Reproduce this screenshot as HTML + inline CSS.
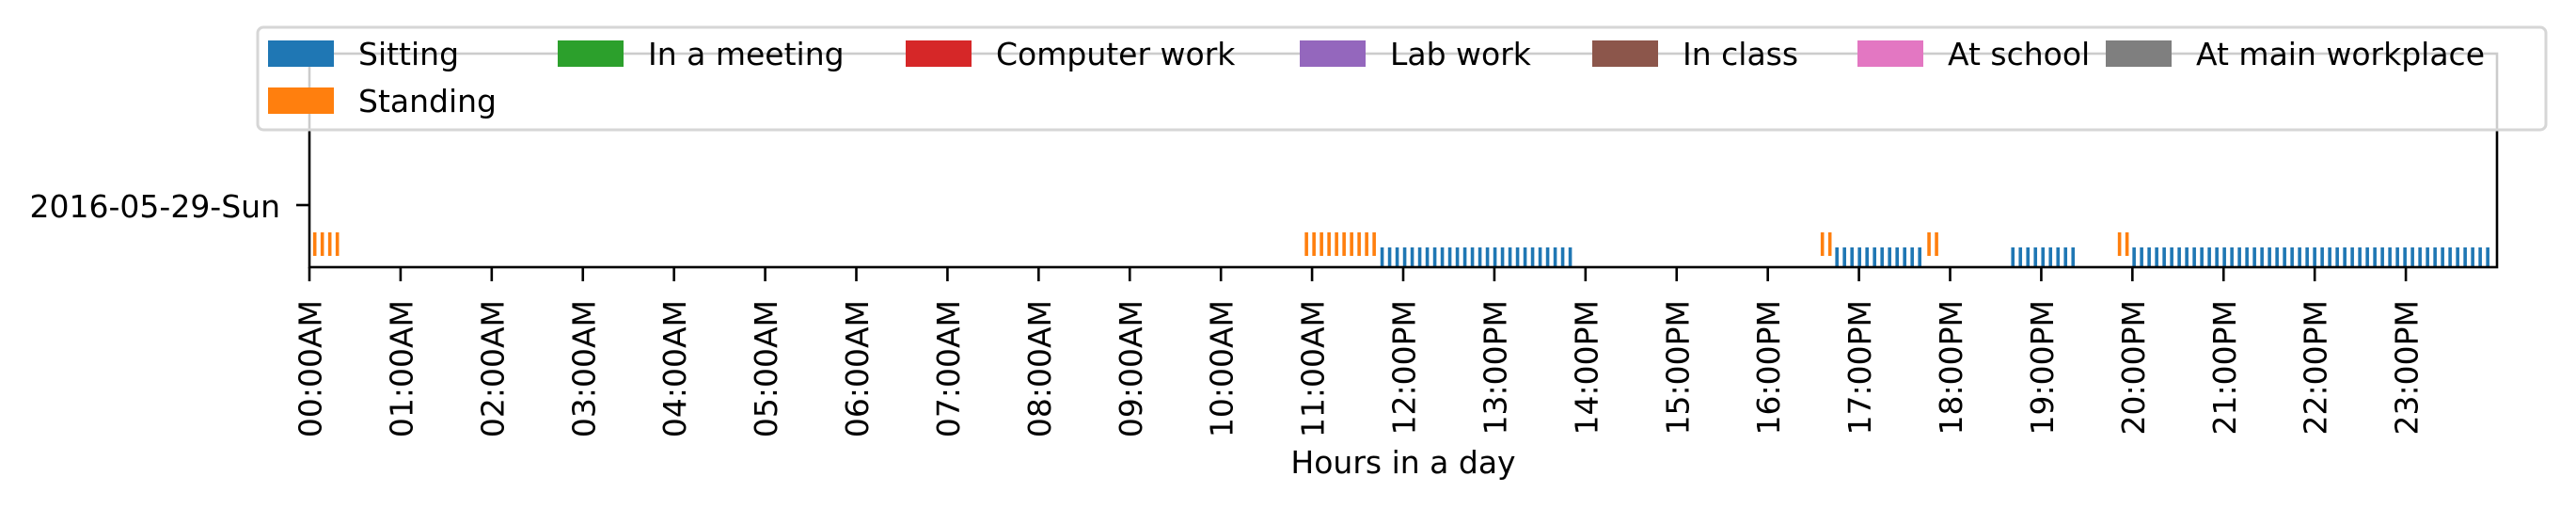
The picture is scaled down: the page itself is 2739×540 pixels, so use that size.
<!DOCTYPE html>
<html><head><meta charset="utf-8"><style>
html,body{margin:0;padding:0;background:#fff;}
svg{display:block;font-family:"DejaVu Sans","Liberation Sans",sans-serif;}
</style></head><body>
<svg id="chart" width="2739" height="540" viewBox="0 0 2739 540" xmlns="http://www.w3.org/2000/svg">
<g id="plot"></g>
<g id="axes"></g>
<g id="legend"></g>
</svg>
<script>
const categories = ["Sitting","Standing","In a meeting","Computer work","Lab work","In class","At school","At main workplace"];
const colors = ["#1f77b4","#ff7f0e","#2ca02c","#d62728","#9467bd","#8c564b","#e377c2","#7f7f7f"];
const dayLabels = ["2016-05-29-Sun"];
const tickLabels = ["00:00AM","01:00AM","02:00AM","03:00AM","04:00AM","05:00AM","06:00AM","07:00AM","08:00AM","09:00AM","10:00AM","11:00AM","12:00PM","13:00PM","14:00PM","15:00PM","16:00PM","17:00PM","18:00PM","19:00PM","20:00PM","21:00PM","22:00PM","23:00PM"];
const sittingStart = [11.75, 16.74, 18.67, 20.0];
const sittingEnd   = [13.88, 17.72, 19.37, 23.97];
const standingStart = [0.04, 10.92, 16.58, 17.75, 19.84];
const standingEnd   = [0.34, 11.71, 16.71, 17.87, 19.96];

const NS = "http://www.w3.org/2000/svg";
const L = 329, R = 2655, T = 57, B = 284;
const xDomain = [0, 24];
function xs(h){ return L + (h - xDomain[0]) / (xDomain[1] - xDomain[0]) * (R - L); }
function mk(tag, attrs, parent){ const e = document.createElementNS(NS, tag); for (const k in attrs) e.setAttribute(k, attrs[k]); parent.appendChild(e); return e; }
const plot = document.getElementById('plot');
const axes = document.getElementById('axes');
const legend = document.getElementById('legend');

function hatchBar(h0, h1, y, h, color, name){
  const g = mk('g', {}, plot);
  
  
  const x0 = xs(h0), x1 = xs(h1);
  for (let x = x0; x < x1 - 1; x += 8) {
    mk('rect', {x: x, y: y, width: Math.min(3.6, x1 - x), height: h, fill: color}, g);
  }
}
for (let i = 0; i < standingStart.length; i++) hatchBar(standingStart[i], standingEnd[i], 247, 25, colors[1], 'standing-bar');
for (let i = 0; i < sittingStart.length; i++) hatchBar(sittingStart[i], sittingEnd[i], 263, 20, colors[0], 'sitting-bar');

const frame = mk('rect', {x: L, y: T, width: R - L, height: B - T, fill: 'none', stroke: '#000', 'stroke-width': 2.6}, axes);



for (let i = 0; i < tickLabels.length; i++) {
  const x = xs(i);
  const t = mk('line', {x1: x, y1: B, x2: x, y2: B + 15, stroke: '#000', 'stroke-width': 2.6}, axes);
  
  
  const tx = mk('text', {x: 0, y: 0, transform: `translate(${x + 1},319) rotate(-90)`, 'text-anchor': 'end', 'dominant-baseline': 'central', 'font-size': 33, fill: '#000'}, axes);
  tx.textContent = tickLabels[i];
  
  
}
for (let i = 0; i < dayLabels.length; i++) {
  const y = 218;
  const t = mk('line', {x1: L - 14, y1: y, x2: L, y2: y, stroke: '#000', 'stroke-width': 2.6}, axes);
  
  
  const tx = mk('text', {x: 298, y: 231, 'text-anchor': 'end', 'font-size': 33, fill: '#000'}, axes);
  tx.textContent = dayLabels[i];
  
  
}
const xl = mk('text', {x: (L + R) / 2, y: 503, 'text-anchor': 'middle', 'font-size': 33, fill: '#000'}, axes);
xl.textContent = 'Hours in a day';



const lb = mk('rect', {x: 274, y: 29, width: 2433, height: 109, rx: 6, fill: '#fff', 'fill-opacity': 0.8, stroke: '#d6d6d6', 'stroke-width': 3}, legend);


const colX = [285, 593, 963, 1382, 1693, 1975, 2239];
const order = [0, 2, 3, 4, 5, 6, 7, 1];
for (let j = 0; j < order.length; j++) {
  const c = order[j];
  const px = j < 7 ? colX[j] : colX[0];
  const py = j < 7 ? 43 : 93;
  const g = mk('g', {}, legend);
  
  
  mk('rect', {x: px, y: py, width: 70, height: 28, fill: colors[c]}, g);
  const tx = mk('text', {x: px + 96, y: py + 26, 'font-size': 33, fill: '#000'}, g);
  tx.textContent = categories[c];
}
</script>
</body></html>
